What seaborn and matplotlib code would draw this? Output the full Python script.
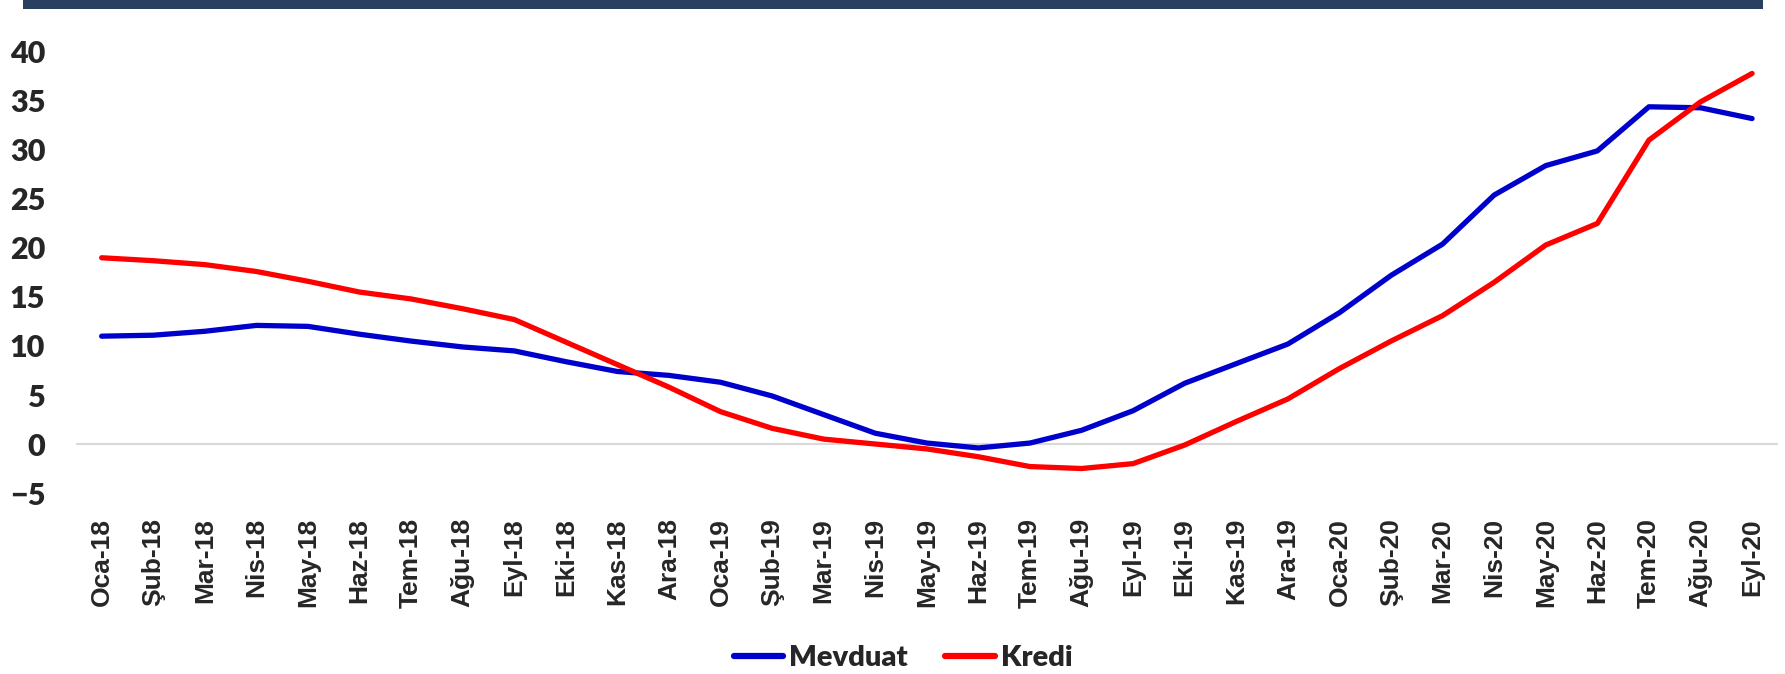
import pandas as pd
import matplotlib.pyplot as plt
import seaborn as sns
from matplotlib.patches import Rectangle

# --------------------------------------
# Data
# --------------------------------------

months = [
    "Oca-18", "Şub-18", "Mar-18", "Nis-18", "May-18", "Haz-18", "Tem-18",
    "Ağu-18", "Eyl-18", "Eki-18", "Kas-18", "Ara-18",
    "Oca-19", "Şub-19", "Mar-19", "Nis-19", "May-19", "Haz-19", "Tem-19",
    "Ağu-19", "Eyl-19", "Eki-19", "Kas-19", "Ara-19",
    "Oca-20", "Şub-20", "Mar-20", "Nis-20", "May-20", "Haz-20", "Tem-20",
    "Ağu-20", "Eyl-20",
]

mevduat = [
    11.0, 11.1, 11.5, 12.1, 12.0, 11.2, 10.5, 9.9, 9.5, 8.4, 7.4, 7.0,
    6.3, 4.9, 3.0, 1.1, 0.1, -0.4, 0.1, 1.4, 3.4, 6.2, 8.2, 10.2,
    13.4, 17.2, 20.4, 25.4, 28.4, 29.9, 34.4, 34.3, 33.2,
]

kredi = [
    19.0, 18.7, 18.3, 17.6, 16.6, 15.5, 14.8, 13.8, 12.7, 10.4, 8.1, 5.8,
    3.3, 1.6, 0.5, 0.0, -0.5, -1.3, -2.3, -2.5, -2.0, -0.1, 2.3, 4.6,
    7.7, 10.5, 13.1, 16.5, 20.3, 22.5, 31.0, 34.9, 37.8,
]

series_names = ["Mevduat", "Kredi"]
series_colors = ["#0000CC", "#FF0000"]

df = pd.DataFrame({
    "Ay": months * 2,
    "Deger": mevduat + kredi,
    "Seri": [series_names[0]] * len(months) + [series_names[1]] * len(months),
})

# --------------------------------------
# Plot
# --------------------------------------

sns.set_style("white")
plt.rcParams["font.family"] = ["Lato", "DejaVu Sans"]

fig = plt.figure(figsize=(17.85, 6.74), dpi=100)
ax = fig.add_axes([0.0425, 0.2685, 0.9535, 0.6545])

sns.lineplot(
    data=df,
    x="Ay",
    y="Deger",
    hue="Seri",
    palette=series_colors,
    linewidth=3.8,
    sort=False,
    ax=ax,
)

ax.set_xlim(-0.5, len(months) - 0.5)
ax.set_ylim(-5, 40)
ax.set_yticks(range(-5, 41, 5))
ax.axhline(0, color="#D9D9D9", linewidth=1.5, zorder=0)

for s in ax.spines.values():
    s.set_visible(False)

ax.set_xlabel("")
ax.set_ylabel("")
ax.tick_params(axis="y", length=0, pad=22, labelsize=22)
ax.tick_params(axis="x", length=0, pad=18)

for lab in ax.get_yticklabels():
    lab.set_fontweight("heavy")

ax.set_xticks(range(len(months)))
ax.set_xticklabels(
    months,
    rotation=90,
    fontsize=19,
    fontweight="bold",
    family=["Liberation Sans", "DejaVu Sans"],
)

leg = ax.legend(
    loc="center",
    bbox_to_anchor=(903 / 1785, 1 - 658 / 674),
    bbox_transform=fig.transFigure,
    ncol=2,
    frameon=False,
    prop={"size": 21, "weight": "heavy"},
    handlelength=1.7,
    handletextpad=0.2,
    columnspacing=1.3,
)
for line in leg.get_lines():
    line.set_linewidth(4.5)
    line.set_solid_capstyle("round")

# Top banner bar
fig.patches.append(Rectangle(
    (23 / 1785, 1 - 9 / 674), (1763 - 23) / 1785, 9 / 674,
    transform=fig.transFigure, facecolor="#2A4060", edgecolor="none",
))

fig.savefig("out.png", dpi=100)
